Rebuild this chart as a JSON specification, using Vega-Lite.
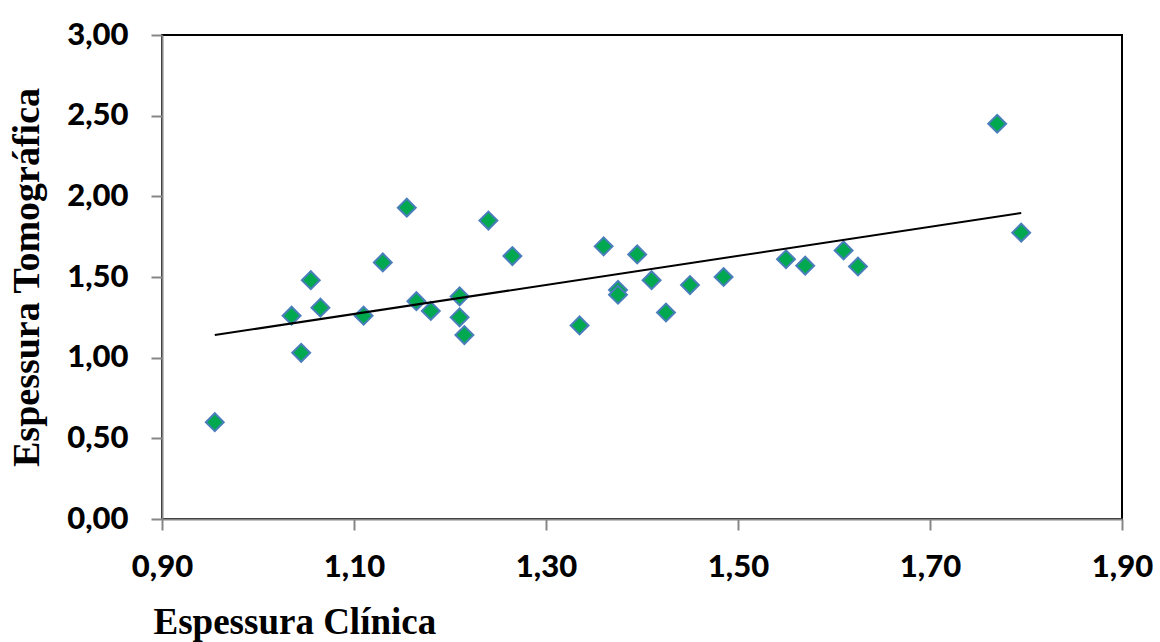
{
  "$schema": "https://vega.github.io/schema/vega-lite/v6.json",
  "width": 960,
  "height": 484,
  "autosize": {"type": "none"},
  "padding": {"left": 162, "top": 35, "right": 38, "bottom": 123},
  "background": "white",
  "config": {
    "view": {"stroke": "black", "strokeWidth": 2},
    "axis": {
      "grid": false,
      "domainColor": "#868686",
      "domainWidth": 2,
      "tickColor": "#868686",
      "tickWidth": 2,
      "tickSize": 11,
      "labelFont": "Lato",
      "labelFontWeight": 900,
      "labelFontSize": 31,
      "labelColor": "black",
      "titleFont": "Liberation Serif",
      "titleFontWeight": "bold",
      "titleColor": "black",
      "zindex": 1
    }
  },
  "data": {
    "values": [
      {"clinica": 0.955, "tomografica": 0.60},
      {"clinica": 1.035, "tomografica": 1.26},
      {"clinica": 1.045, "tomografica": 1.03},
      {"clinica": 1.055, "tomografica": 1.48},
      {"clinica": 1.065, "tomografica": 1.31},
      {"clinica": 1.11, "tomografica": 1.26},
      {"clinica": 1.13, "tomografica": 1.59},
      {"clinica": 1.165, "tomografica": 1.35},
      {"clinica": 1.18, "tomografica": 1.29},
      {"clinica": 1.21, "tomografica": 1.38},
      {"clinica": 1.21, "tomografica": 1.25},
      {"clinica": 1.215, "tomografica": 1.14},
      {"clinica": 1.155, "tomografica": 1.93},
      {"clinica": 1.24, "tomografica": 1.85},
      {"clinica": 1.265, "tomografica": 1.63},
      {"clinica": 1.36, "tomografica": 1.69},
      {"clinica": 1.395, "tomografica": 1.64},
      {"clinica": 1.335, "tomografica": 1.20},
      {"clinica": 1.375, "tomografica": 1.42},
      {"clinica": 1.375, "tomografica": 1.39},
      {"clinica": 1.41, "tomografica": 1.48},
      {"clinica": 1.425, "tomografica": 1.28},
      {"clinica": 1.45, "tomografica": 1.45},
      {"clinica": 1.485, "tomografica": 1.50},
      {"clinica": 1.55, "tomografica": 1.61},
      {"clinica": 1.57, "tomografica": 1.57},
      {"clinica": 1.61, "tomografica": 1.665},
      {"clinica": 1.625, "tomografica": 1.565},
      {"clinica": 1.77, "tomografica": 2.45},
      {"clinica": 1.795, "tomografica": 1.775}
    ]
  },
  "encoding": {
    "x": {
      "field": "clinica",
      "type": "quantitative",
      "scale": {"domain": [0.9, 1.9], "zero": false, "nice": false},
      "axis": {
        "title": "Espessura Clínica",
        "titleFontSize": 37,
        "titleAnchor": "start",
        "titleX": -9,
        "titlePadding": 22,
        "values": [0.9, 1.1, 1.3, 1.5, 1.7, 1.9],
        "labelExpr": "replace(format(datum.value, '.2f'), '.', ',')",
        "labelPadding": 22,
        "labelFlush": false,
        "labelOverlap": false
      }
    },
    "y": {
      "field": "tomografica",
      "type": "quantitative",
      "scale": {"domain": [0, 3], "nice": false},
      "axis": {
        "title": "Espessura Tomográfica",
        "titleFontSize": 38,
        "titlePadding": 20,
        "values": [0, 0.5, 1, 1.5, 2, 2.5, 3],
        "labelExpr": "replace(format(datum.value, '.2f'), '.', ',')",
        "labelPadding": 23,
        "labelFlush": false,
        "labelOverlap": false
      }
    }
  },
  "layer": [
    {
      "mark": {
        "type": "point",
        "shape": "diamond",
        "filled": true,
        "color": "#00A84F",
        "fill": "#00A84F",
        "stroke": "#4A7EBB",
        "strokeWidth": 2,
        "size": 320,
        "opacity": 1
      }
    },
    {
      "transform": [{"regression": "tomografica", "on": "clinica"}],
      "mark": {"type": "line", "color": "black", "strokeWidth": 2}
    }
  ]
}
